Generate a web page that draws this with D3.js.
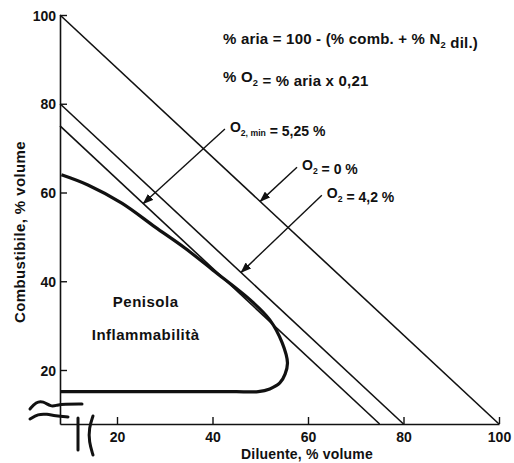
<!DOCTYPE html>
<html>
<head>
<meta charset="utf-8">
<script src="https://cdn.jsdelivr.net/npm/d3@7"></script>
<style>
  body { margin: 0; background: #fff; }
  svg text { font-family: "Liberation Sans", Arial, sans-serif; font-weight: bold; fill: #111; }
</style>
</head>
<body>
<div id="chart"></div>
<script>
// axis ticks
const xTicks = [20, 40, 60, 80, 100];
const yTicks = [20, 40, 60, 80, 100];

// straight lines: combustibile + diluente = total (O2 = 0 %, 4,2 %, 5,25 %)
const lineTotals = [100, 80, 75];

// outline of the flammability peninsula (diluente, combustibile)
const curveDil  = [0.5, 9.8, 21, 28, 34.2, 40.1, 47.9, 52, 54.6, 55.7, 55.2, 54.1, 52, 49.6, 45, 0];
const curveComb = [64, 61.7, 57.6, 52.2, 47.5, 42.5, 35.8, 31.3, 26.1, 21.6, 18.5, 15.2, 13, 12, 12, 12];

// arrow annotations
const arrowLabels = [
  [{ t: "O" }, { t: "2, min", sub: true }, { t: " = 5,25 %" }],
  [{ t: "O" }, { t: "2", sub: true }, { t: " = 0 %" }],
  [{ t: "O" }, { t: "2", sub: true }, { t: " = 4,2 %" }]
];
const arrowTail = [[42.6, 74.3], [57.7, 65.7], [62.9, 59.4]];
const arrowTip  = [[25.5, 57.5], [50, 58], [46, 42]];

// formulas at the top
const formulas = [
  [{ t: "% aria = 100 - (% comb. + % N" }, { t: "2", sub: true }, { t: " dil.)" }],
  [{ t: "% O" }, { t: "2", sub: true }, { t: "  = % aria x 0,21" }]
];

const width = 514;
const height = 463;

const svg = d3.select("#chart")
  .append("svg")
  .attr("width", width)
  .attr("height", height);

// broken axes: 0..20 is squeezed
const x = d3.scaleLinear().domain([0, 20, 100]).range([60, 117, 499]);
const y = d3.scaleLinear().domain([0, 20, 100]).range([424, 370, 15]);

function richText(sel, parts, size) {
  parts.forEach(p => {
    if (p.sub) {
      sel.append("tspan").attr("dy", 4).style("font-size", (size * 0.62) + "px").text(p.t);
      sel.append("tspan").attr("dy", -4).text("");
    } else {
      sel.append("tspan").text(p.t);
    }
  });
}

// arrow head
svg.append("defs").append("marker")
  .attr("id", "arrow")
  .attr("markerUnits", "userSpaceOnUse")
  .attr("markerWidth", 11)
  .attr("markerHeight", 8)
  .attr("refX", 10)
  .attr("refY", 4)
  .attr("orient", "auto")
  .append("path")
  .attr("d", "M0,0 L11,4 L0,8 Z")
  .attr("fill", "#111");

// Axes
const xAxis = d3.axisBottom(x).tickValues(xTicks).tickSize(-7).tickSizeOuter(0).tickPadding(8);
const yAxis = d3.axisLeft(y).tickValues(yTicks).tickSize(-7).tickSizeOuter(0).tickPadding(4);

const xg = svg.append("g").attr("transform", `translate(0,${y(0)})`).call(xAxis);
const yg = svg.append("g").attr("transform", `translate(${x(0)},0)`).call(yAxis);

[xg, yg].forEach(g => {
  g.select(".domain").attr("stroke", "#111").attr("stroke-width", 1.6);
  g.selectAll(".tick line").attr("stroke", "#111").attr("stroke-width", 1.4);
  g.selectAll(".tick text").style("font-size", "14px").attr("fill", "#111");
});
yg.selectAll(".tick text").attr("dy", "0.36em");

// axis titles
svg.append("text")
  .attr("x", (x(20) + x(100)) / 2 - 1)
  .attr("y", 459)
  .attr("text-anchor", "middle")
  .style("font-size", "14px")
  .style("letter-spacing", "0.2px")
  .text("Diluente, % volume");

svg.append("text")
  .attr("transform", `translate(25,${232}) rotate(-90)`)
  .attr("text-anchor", "middle")
  .style("font-size", "15px")
  .style("letter-spacing", "0.4px")
  .text("Combustibile, % volume");

// axis break marks
const brk = d3.line().curve(d3.curveBasis);
const ox = x(0), oy = y(0);
const breakMarks = [
  [[-30, -15], [-24, -22], [-17, -23], [-9, -17], [-3, -19], [4, -20], [22, -20]],
  [[-30, -5], [-22, -10], [-13, -10], [-5, -8], [8, -7]],
  [[18, -6], [18, 10], [18, 26]],
  [[33, -8], [29, 4], [29, 18], [33, 31]]
];
breakMarks.forEach(m => {
  svg.append("path")
    .attr("d", brk(m.map(p => [ox + p[0], oy + p[1]])))
    .attr("fill", "none")
    .attr("stroke", "#111")
    .attr("stroke-width", 3)
    .attr("stroke-linecap", "round");
});

// diagonal lines
svg.selectAll(".diag")
  .data(lineTotals)
  .enter().append("line")
  .attr("class", "diag")
  .attr("x1", x(0))
  .attr("y1", d => y(d))
  .attr("x2", d => x(d))
  .attr("y2", y(0))
  .attr("stroke", "#111")
  .attr("stroke-width", 1.6);

// flammability peninsula
const pts = curveDil.map((d, i) => [d, curveComb[i]]);
const smooth = d3.line()
  .x(d => x(d[0]))
  .y(d => y(d[1]))
  .curve(d3.curveCatmullRom.alpha(0.5));
const last = pts[pts.length - 1];
svg.append("path")
  .attr("d", smooth(pts.slice(0, -1)) + `L${x(last[0])},${y(last[1])}`)
  .attr("fill", "none")
  .attr("stroke", "#111")
  .attr("stroke-width", 3.2)
  .attr("stroke-linejoin", "round");

svg.append("text")
  .attr("x", x(26))
  .attr("y", 307)
  .attr("text-anchor", "middle")
  .style("font-size", "15px")
  .style("letter-spacing", "0.5px")
  .text("Penisola");

svg.append("text")
  .attr("x", x(26))
  .attr("y", 340)
  .attr("text-anchor", "middle")
  .style("font-size", "15px")
  .style("letter-spacing", "0.5px")
  .text("Inflammabilità");

// arrows + labels
arrowTail.forEach((t, i) => {
  svg.append("line")
    .attr("x1", x(t[0]))
    .attr("y1", y(t[1]))
    .attr("x2", x(arrowTip[i][0]))
    .attr("y2", y(arrowTip[i][1]))
    .attr("stroke", "#111")
    .attr("stroke-width", 1.4)
    .attr("marker-end", "url(#arrow)");

  const lbl = svg.append("text")
    .attr("x", x(t[0]) + 5)
    .attr("y", y(t[1]) + 3)
    .style("font-size", "14px");
  richText(lbl, arrowLabels[i], 14);
});

// formulas
formulas.forEach((f, i) => {
  const txt = svg.append("text")
    .attr("x", 223)
    .attr("y", 44 + i * 38)
    .style("font-size", "15px")
    .style("letter-spacing", "0.2px");
  richText(txt, f, 15);
});
</script>
</body>
</html>
